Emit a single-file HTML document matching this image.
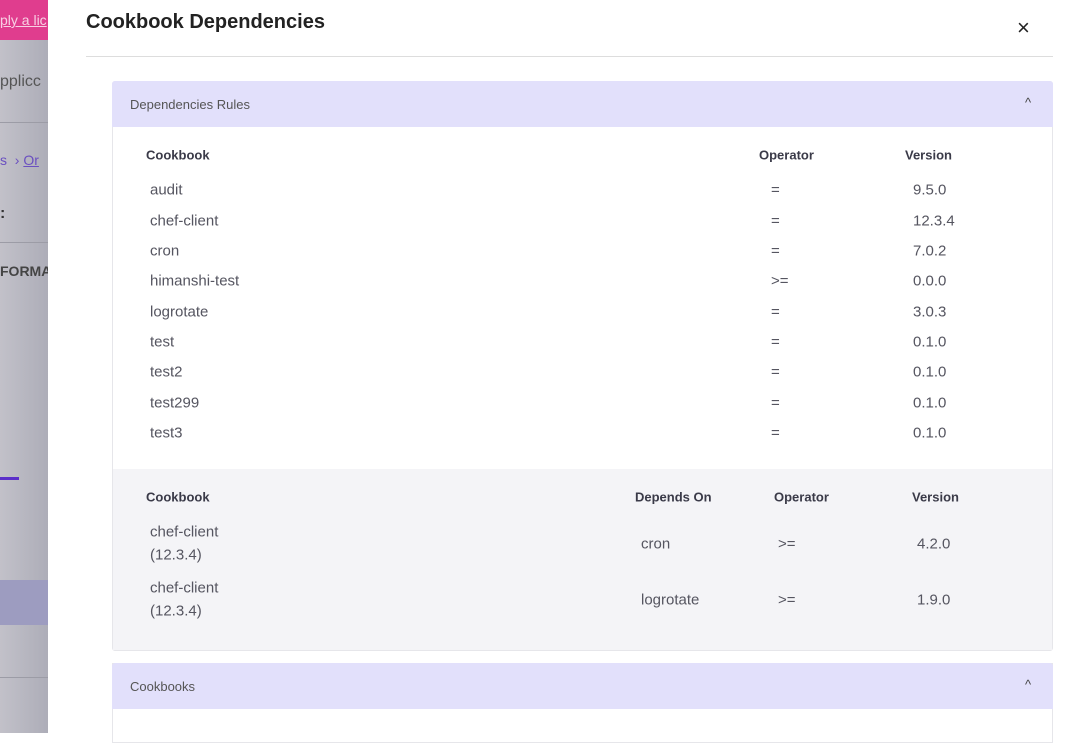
<!DOCTYPE html>
<html><head><style>
*{margin:0;padding:0;box-sizing:border-box}
body{width:1085px;height:733px;overflow:hidden;position:relative;background:#fff;font-family:"Liberation Sans",sans-serif;color:#4a4a55}
.a{position:absolute;white-space:nowrap}
.h{font-size:13px;font-weight:bold;color:#3a3a48;transform:translateY(-50%)}
.t{font-size:15px;color:#555560;transform:translateY(-50%)}
</style></head><body>
<!-- left dimmed background -->
<div class="a" style="left:0;top:0;width:48px;height:733px;background:linear-gradient(90deg,#c2c1c9,#adadb8)"></div>
<div class="a" style="left:0;top:0;width:48px;height:40px;background:#e03d8e"></div>
<div class="a" style="left:0;top:12px;font-size:14px;color:#f8d0e4;text-decoration:underline">ply a lic</div>
<div class="a" style="left:0;top:73px;font-size:16px;color:#555">pplicc</div>
<div class="a" style="left:0;top:122px;width:48px;height:1px;background:#9c9ca6"></div>
<div class="a" style="left:0;top:152px;font-size:14px;color:#6a4fc0">s &nbsp;› <u>Or</u></div>
<div class="a" style="left:0;top:205px;font-size:16px;color:#333;font-weight:bold">:</div>
<div class="a" style="left:0;top:242px;width:48px;height:1px;background:#9c9ca6"></div>
<div class="a" style="left:0;top:263px;font-size:14px;font-weight:bold;color:#444">FORMA</div>
<div class="a" style="left:0;top:477px;width:19px;height:3px;background:#5b2fc9"></div>
<div class="a" style="left:0;top:580px;width:48px;height:45px;background:#9d9cc0"></div>
<div class="a" style="left:0;top:677px;width:48px;height:1px;background:#9c9ca6"></div>
<!-- modal -->
<div class="a" style="left:48px;top:0;width:1037px;height:733px;background:#fff"></div>
<div class="a" style="left:86px;top:11px;font-size:20px;font-weight:bold;color:#222">Cookbook Dependencies</div>
<div class="a" style="left:1017px;top:15px;font-size:22px;color:#222">×</div>
<div class="a" style="left:86px;top:56px;width:967px;height:1px;background:#ddd"></div>
<!-- panel 1 -->
<div class="a" style="left:112px;top:81px;width:941px;height:570px;border:1px solid #e6e6ea;border-radius:3px;background:#fff"></div>
<div class="a" style="left:112px;top:81px;width:941px;height:46px;background:#e2e0fb;border-radius:3px 3px 0 0"></div>
<div class="a" style="left:130px;top:97px;font-size:13px;color:#555">Dependencies Rules</div>
<div class="a" style="left:1025px;top:95px;font-size:13px;color:#444">^</div>
<div class="a h" style="left:146px;top:155px">Cookbook</div>
<div class="a h" style="left:759px;top:155px">Operator</div>
<div class="a h" style="left:905px;top:155px">Version</div>
<div class="a t" style="left:150px;top:190px">audit</div><div class="a t" style="left:771px;top:190px">=</div><div class="a t" style="left:913px;top:190px">9.5.0</div>
<div class="a t" style="left:150px;top:221px">chef-client</div><div class="a t" style="left:771px;top:221px">=</div><div class="a t" style="left:913px;top:221px">12.3.4</div>
<div class="a t" style="left:150px;top:251px">cron</div><div class="a t" style="left:771px;top:251px">=</div><div class="a t" style="left:913px;top:251px">7.0.2</div>
<div class="a t" style="left:150px;top:281px">himanshi-test</div><div class="a t" style="left:771px;top:281px">&gt;=</div><div class="a t" style="left:913px;top:281px">0.0.0</div>
<div class="a t" style="left:150px;top:312px">logrotate</div><div class="a t" style="left:771px;top:312px">=</div><div class="a t" style="left:913px;top:312px">3.0.3</div>
<div class="a t" style="left:150px;top:342px">test</div><div class="a t" style="left:771px;top:342px">=</div><div class="a t" style="left:913px;top:342px">0.1.0</div>
<div class="a t" style="left:150px;top:372px">test2</div><div class="a t" style="left:771px;top:372px">=</div><div class="a t" style="left:913px;top:372px">0.1.0</div>
<div class="a t" style="left:150px;top:403px">test299</div><div class="a t" style="left:771px;top:403px">=</div><div class="a t" style="left:913px;top:403px">0.1.0</div>
<div class="a t" style="left:150px;top:433px">test3</div><div class="a t" style="left:771px;top:433px">=</div><div class="a t" style="left:913px;top:433px">0.1.0</div>
<div class="a" style="left:113px;top:469px;width:939px;height:181px;background:#f4f4f7"></div>
<div class="a h" style="left:146px;top:497px">Cookbook</div>
<div class="a h" style="left:635px;top:497px">Depends On</div>
<div class="a h" style="left:774px;top:497px">Operator</div>
<div class="a h" style="left:912px;top:497px">Version</div>
<div class="a t" style="left:150px;top:532px">chef-client</div><div class="a t" style="left:150px;top:555px">(12.3.4)</div>
<div class="a t" style="left:641px;top:544px">cron</div><div class="a t" style="left:778px;top:544px">&gt;=</div><div class="a t" style="left:917px;top:544px">4.2.0</div>
<div class="a t" style="left:150px;top:588px">chef-client</div><div class="a t" style="left:150px;top:611px">(12.3.4)</div>
<div class="a t" style="left:641px;top:600px">logrotate</div><div class="a t" style="left:778px;top:600px">&gt;=</div><div class="a t" style="left:917px;top:600px">1.9.0</div>
<!-- panel 2 -->
<div class="a" style="left:112px;top:663px;width:941px;height:80px;border:1px solid #e6e6ea;background:#fff"></div>
<div class="a" style="left:112px;top:663px;width:941px;height:46px;background:#e2e0fb;border-radius:3px 3px 0 0"></div>
<div class="a" style="left:130px;top:679px;font-size:13px;color:#555">Cookbooks</div>
<div class="a" style="left:1025px;top:677px;font-size:13px;color:#444">^</div>
</body></html>
